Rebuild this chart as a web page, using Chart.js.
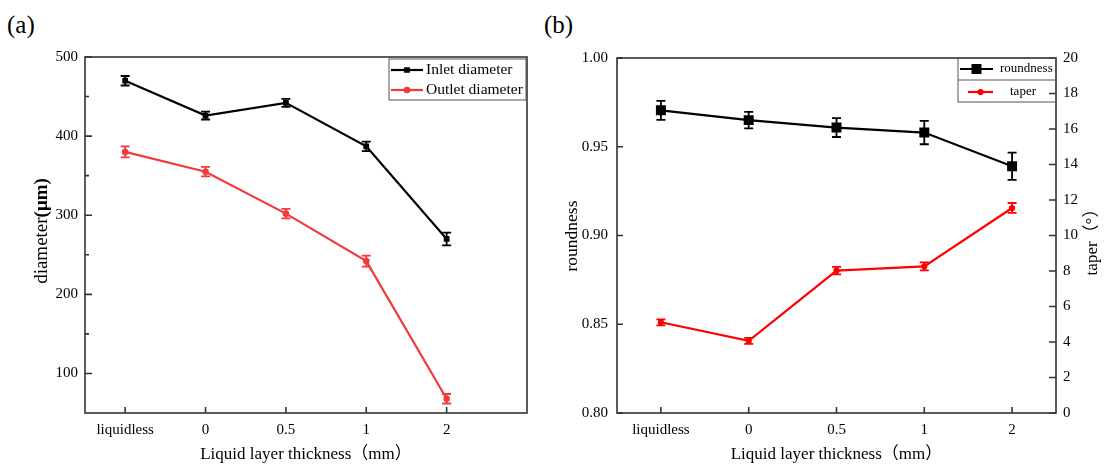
<!DOCTYPE html>
<html>
<head>
<meta charset="utf-8">
<script src="https://cdn.jsdelivr.net/npm/chart.js@4"></script>
<style>
  body { margin: 0; background: #fff; width: 1104px; height: 466px; overflow: hidden; position: relative; font-family: "Liberation Serif", "Noto Sans CJK SC", serif; }
  .panel { position: absolute; top: 0; width: 552px; height: 466px; }
  .tag { position: absolute; top: 12px; font-size: 25px; line-height: 1; color: #000; }
</style>
</head>
<body>
<div class="tag" style="left:7px">(a)</div>
<div class="tag" style="left:544px">(b)</div>
<div class="panel" style="left:0"><canvas id="chartA" width="552" height="466"></canvas></div>
<div class="panel" style="left:552px"><canvas id="chartB" width="552" height="466"></canvas></div>
<script>
// values
const categories = ["liquidless", "0", "0.5", "1", "2"];

const inletDiameter = [470, 426, 442, 387, 270];
const inletError = [6, 5, 5, 6, 8];
const outletDiameter = [380, 355, 302, 242, 68];
const outletError = [7, 6, 6, 7, 6];

const roundness = [0.9705, 0.9650, 0.9608, 0.9580, 0.9390];
const roundnessError = [0.0054, 0.0046, 0.0053, 0.0066, 0.0077];
const taper = [5.11, 4.06, 8.02, 8.26, 11.55];
const taperError = [0.17, 0.17, 0.21, 0.23, 0.28];

const diameterTicks = [100, 200, 300, 400, 500];
const diameterMinorTicks = [150, 250, 350, 450];
const roundnessTicks = [0.80, 0.85, 0.90, 0.95, 1.00];
const taperTicks = [0, 2, 4, 6, 8, 10, 12, 14, 16, 18, 20];

const FONT = '"Liberation Serif", "Noto Sans CJK SC", serif';
Chart.defaults.font.family = FONT;
Chart.defaults.color = "#000";

const toPoints = arr => arr.map((v, i) => ({ x: i, y: v }));

// error bars, inward ticks, frame, rotated titles and boxed legend
const decor = {
  id: "decor",
  beforeDatasetsDraw(chart, args, opts) {
    const ctx = chart.ctx;
    chart.data.datasets.forEach((ds, i) => {
      if (!ds.errors) return;
      const meta = chart.getDatasetMeta(i);
      const ys = chart.scales[meta.yAxisID];
      ctx.save();
      ctx.strokeStyle = ds.borderColor;
      ctx.lineWidth = 1.8;
      meta.data.forEach((pt, j) => {
        const v = ds.data[j].y, e = ds.errors[j];
        const t = ys.getPixelForValue(v + e), b = ys.getPixelForValue(v - e);
        const c = opts.cap;
        ctx.beginPath();
        ctx.moveTo(pt.x, t); ctx.lineTo(pt.x, b);
        ctx.moveTo(pt.x - c, t); ctx.lineTo(pt.x + c, t);
        ctx.moveTo(pt.x - c, b); ctx.lineTo(pt.x + c, b);
        ctx.stroke();
      });
      ctx.restore();
    });
  },
  afterDraw(chart, args, opts) {
    const ctx = chart.ctx;
    const a = chart.chartArea;
    ctx.save();
    ctx.strokeStyle = "#333";
    ctx.lineWidth = 1.6;
    ctx.strokeRect(a.left, a.top, a.right - a.left, a.bottom - a.top);

    // inward ticks
    (opts.ticks || []).forEach(tk => {
      const s = chart.scales[tk.scale];
      ctx.beginPath();
      tk.values.forEach(v => {
        const p = s.getPixelForValue(v);
        if (tk.side === "bottom") { ctx.moveTo(p, a.bottom); ctx.lineTo(p, a.bottom - tk.len); }
        else if (tk.side === "left") { ctx.moveTo(a.left, p); ctx.lineTo(a.left + tk.len, p); }
        else { ctx.moveTo(a.right, p); ctx.lineTo(a.right - tk.len, p); }
      });
      ctx.stroke();
    });

    // vertical titles
    (opts.titles || []).forEach(tt => {
      ctx.save();
      ctx.translate(tt.x, tt.y);
      ctx.rotate(-Math.PI / 2);
      ctx.textBaseline = "middle";
      ctx.fillStyle = "#000";
      let total = 0;
      tt.parts.forEach(p => { ctx.font = p.font; total += ctx.measureText(p.text).width; });
      let x = -total / 2;
      tt.parts.forEach(p => {
        ctx.font = p.font;
        ctx.fillText(p.text, x, 0);
        x += ctx.measureText(p.text).width;
      });
      ctx.restore();
    });

    // legend box
    const lg = opts.legend;
    if (lg) {
      ctx.strokeStyle = "#555";
      ctx.lineWidth = 1;
      ctx.strokeRect(lg.box[0], lg.box[1], lg.box[2], lg.box[3]);
      if (lg.divider) {
        ctx.beginPath();
        ctx.moveTo(lg.box[0], lg.divider); ctx.lineTo(lg.box[0] + lg.box[2], lg.divider);
        ctx.stroke();
      }
      chart.data.datasets.forEach((ds, i) => {
        const it = lg.items[i];
        ctx.strokeStyle = ds.borderColor;
        ctx.lineWidth = 2.2;
        ctx.beginPath();
        ctx.moveTo(it.x0, it.y); ctx.lineTo(it.x1, it.y);
        ctx.stroke();
        Chart.helpers.drawPoint(ctx, { pointStyle: ds.pointStyle, radius: it.r, borderWidth: 1 }, (it.x0 + it.x1) / 2, it.y);
        ctx.fillStyle = ds.borderColor;
        ctx.fill();
        ctx.fillStyle = "#000";
        ctx.font = lg.font;
        ctx.textBaseline = "middle";
        ctx.fillText(ds.label, it.tx, it.y);
      });
    }
    ctx.restore();
  }
};

const tickFont = { size: 15, family: FONT };
const xTitle = {
  display: true,
  text: "Liquid layer thickness（mm）",
  font: { size: 17, family: FONT },
  color: "#000",
  padding: { top: 0, bottom: 1 }
};

function xScale(max) {
  return {
    type: "linear",
    min: -0.5,
    max: max,
    grid: { display: false, drawTicks: false },
    border: { display: false },
    afterBuildTicks: s => { s.ticks = categories.map((c, i) => ({ value: i })); },
    ticks: { callback: v => categories[v], padding: 8, font: tickFont, color: "#000", autoSkip: false, maxRotation: 0 },
    title: xTitle,
    afterFit: s => { s.height = 53; }
  };
}

// (a) diameters
new Chart(document.getElementById("chartA"), {
  type: "line",
  data: {
    datasets: [
      {
        label: "Inlet diameter",
        data: toPoints(inletDiameter),
        errors: inletError,
        borderColor: "#000",
        backgroundColor: "#000",
        borderWidth: 2.2,
        pointStyle: "rect",
        pointRadius: 2.5,
        tension: 0
      },
      {
        label: "Outlet diameter",
        data: toPoints(outletDiameter),
        errors: outletError,
        borderColor: "#f23a3a",
        backgroundColor: "#f23a3a",
        borderWidth: 2.2,
        pointStyle: "circle",
        pointRadius: 2.2,
        tension: 0
      }
    ]
  },
  options: {
    responsive: false,
    animation: false,
    devicePixelRatio: 1,
    layout: { padding: { left: 0, right: 25, top: 57, bottom: 0 } },
    scales: {
      x: xScale(5),
      y: {
        type: "linear",
        min: 50,
        max: 500,
        grid: { display: false, drawTicks: false },
        border: { display: false },
        afterBuildTicks: s => { s.ticks = diameterTicks.map(v => ({ value: v })); },
        ticks: { padding: 7, font: tickFont, color: "#000" },
        afterFit: s => { s.width = 85; }
      }
    },
    plugins: {
      legend: { display: false },
      tooltip: { enabled: false },
      decor: {
        cap: 4.5,
        ticks: [
          { scale: "x", side: "bottom", len: 6, values: [0, 1, 2, 3, 4] },
          { scale: "y", side: "left", len: 7, values: diameterTicks },
          { scale: "y", side: "left", len: 4, values: diameterMinorTicks }
        ],
        titles: [
          { x: 42, y: 231, parts: [
            { text: "diameter", font: "19px " + FONT },
            { text: "(μm)", font: "bold 19px " + FONT }
          ] }
        ],
        legend: {
          box: [389, 59, 137, 41],
          font: "15.5px " + FONT,
          items: [
            { x0: 391, x1: 423, y: 70, tx: 426, r: 2.5 },
            { x0: 391, x1: 423, y: 90, tx: 426, r: 2.2 }
          ]
        }
      }
    }
  },
  plugins: [decor]
});

// (b) roundness and taper
new Chart(document.getElementById("chartB"), {
  type: "line",
  data: {
    datasets: [
      {
        label: "roundness",
        data: toPoints(roundness),
        errors: roundnessError,
        yAxisID: "y",
        borderColor: "#000",
        backgroundColor: "#000",
        borderWidth: 2.2,
        pointStyle: "rect",
        pointRadius: 5.5,
        tension: 0
      },
      {
        label: "taper",
        data: toPoints(taper),
        errors: taperError,
        yAxisID: "y2",
        borderColor: "#ff0000",
        backgroundColor: "#ff0000",
        borderWidth: 2.2,
        pointStyle: "circle",
        pointRadius: 2,
        tension: 0
      }
    ]
  },
  options: {
    responsive: false,
    animation: false,
    devicePixelRatio: 1,
    layout: { padding: { left: 0, right: 0, top: 58, bottom: 0 } },
    scales: {
      x: xScale(4.5),
      y: {
        type: "linear",
        position: "left",
        min: 0.8,
        max: 1.0,
        grid: { display: false, drawTicks: false },
        border: { display: false },
        afterBuildTicks: s => { s.ticks = roundnessTicks.map(v => ({ value: v })); },
        ticks: { padding: 9, font: tickFont, color: "#000", callback: v => v.toFixed(2) },
        afterFit: s => { s.width = 65; }
      },
      y2: {
        type: "linear",
        position: "right",
        min: 0,
        max: 20,
        grid: { display: false, drawTicks: false },
        border: { display: false },
        afterBuildTicks: s => { s.ticks = taperTicks.map(v => ({ value: v })); },
        ticks: { padding: 7, font: tickFont, color: "#000" },
        afterFit: s => { s.width = 48; }
      }
    },
    plugins: {
      legend: { display: false },
      tooltip: { enabled: false },
      decor: {
        cap: 4.5,
        ticks: [
          { scale: "x", side: "bottom", len: 6, values: [0, 1, 2, 3, 4] },
          { scale: "y", side: "left", len: 6, values: roundnessTicks },
          { scale: "y2", side: "right", len: 7, values: taperTicks }
        ],
        titles: [
          { x: 20, y: 236, parts: [{ text: "roundness", font: "17.5px " + FONT }] },
          { x: 541, y: 238, parts: [{ text: "taper（°）", font: "17px " + FONT }] }
        ],
        legend: {
          box: [406, 58, 98, 44],
          divider: 80,
          font: "13px " + FONT,
          items: [
            { x0: 408, x1: 441, y: 69, tx: 448, r: 5.5 },
            { x0: 416, x1: 441, y: 92, tx: 458, r: 2 }
          ]
        }
      }
    }
  },
  plugins: [decor]
});
</script>
</body>
</html>
